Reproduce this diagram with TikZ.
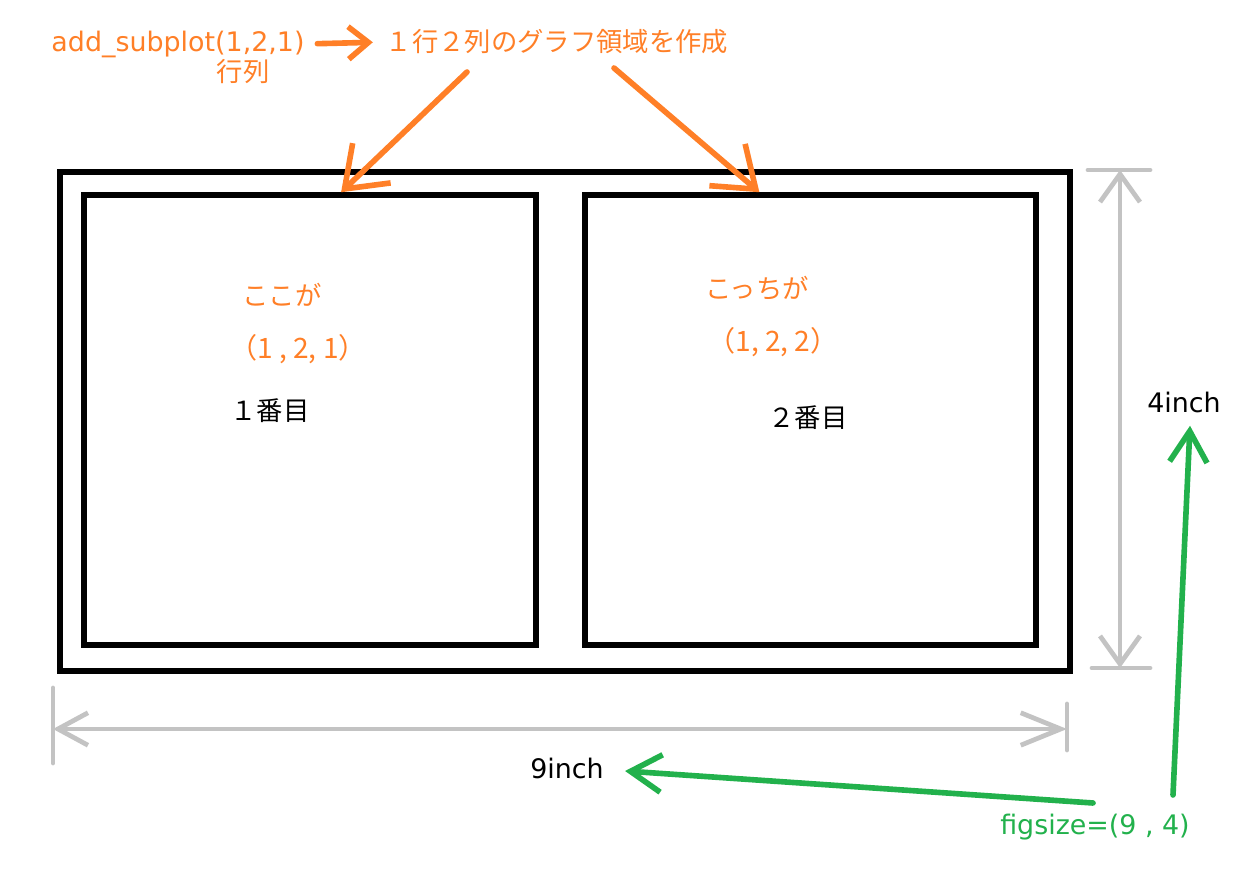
\documentclass[tikz,border=0pt]{standalone}
\usepackage{fontspec}
\setmainfont{DejaVu Sans}
\newfontfamily\jp{Noto Sans CJK JP}
\usetikzlibrary{positioning}
\usetikzlibrary{calc}
\usetikzlibrary{arrows.meta}
\definecolor{orng}{RGB}{255,127,39}
\definecolor{grn}{RGB}{34,177,76}
\definecolor{gry}{RGB}{195,195,195}

\begin{document}
\begin{tikzpicture}[x=0.02cm,y=-0.02cm,
    txt/.style={font=\fontsize{15.3}{18}\selectfont, inner sep=0pt},
    jtxt/.style={font=\jp\fontsize{15}{18}\selectfont, inner sep=0pt},
    frame/.style={draw, line width=3.2pt, inner sep=0pt},
    oarr/.style={orng, line width=3.2pt, line cap=round, -{Straight Barb[length=0.75cm,width=1.1cm]}},
    garr/.style={grn, line width=3.2pt, line cap=round, -{Straight Barb[length=0.62cm,width=0.75cm]}},
    dimv/.style={gry, line width=2.7pt, line cap=round, {Straight Barb[length=0.56cm,width=0.8cm]}-{Straight Barb[length=0.56cm,width=0.8cm]}},
    dimh/.style={gry, line width=2.7pt, line cap=round, {Straight Barb[length=0.6cm,width=0.65cm]}-{Straight Barb[length=0.8cm,width=0.65cm]}},
    tick/.style={gry, line width=2.7pt, line cap=round}]
    \useasboundingbox (0,0) rectangle (1234,874);

    % figure and the two axes
    \node[frame, minimum width=20.2cm, minimum height=9.98cm] (fig) at (565,421.5) {};
    \node[frame, minimum width=9.04cm, minimum height=9cm] (ax1) at (310,420) {};
    \node[frame, minimum width=9.02cm, minimum height=9cm] (ax2) at (810.5,420) {};

    \node[txt, orng] (subplot) at (178,44) {add\_subplot(1,2,1)};
    \node[jtxt, orng] (rowcol) at (243,72) {行列};
    \node[jtxt, orng] (layout) at (557,42) {１行２列のグラフ領域を作成};

    \node[jtxt, orng] (here1) at (282,295) {ここが};
    \node[jtxt, orng, font=\jp\fontsize{16}{18}\selectfont] (tup1) at (298,349) {（1 , 2, 1）};
    \node[jtxt] (num1) at (270,411) {１番目};
    \node[jtxt, orng] (here2) at (757,288) {こっちが};
    \node[jtxt, orng, font=\jp\fontsize{16}{18}\selectfont] (tup2) at (773,342) {（1, 2, 2）};
    \node[jtxt] (num2) at (808,418) {２番目};

    \node[txt] (inch4) at (1184,402) {4inch};
    \node[txt] (inch9) at (567,768) {9inch};
    \node[txt, grn] (figsize) at (1095,827) {figsize=(9 , 4)};

    \draw[oarr, -{Straight Barb[length=0.4cm,width=0.65cm]}, shorten <=0.25cm, shorten >=0.25cm] (subplot.east) -- (layout.west);
    \coordinate (o1) at (467,72);
    \coordinate (o2) at (614,68);
    \draw[oarr] (o1) -- ($(ax1.north west)!0.568!(ax1.north east)$);
    \draw[oarr] (o2) -- ($(ax2.north west)!0.388!(ax2.north east)$);

    % size arrows
    \coordinate (vt) at (1120,170);
    \coordinate (vb) at (1120,668);
    \draw[dimv] (vt) -- (vb);
    \draw[tick] ($(vt)+(-32,0)$) -- ($(vt)+(30,0)$);
    \draw[tick] ($(vb)+(-28,0)$) -- ($(vb)+(30,0)$);
    \coordinate (hl) at (53,729);
    \coordinate (hr) at (1067,729);
    \draw[dimh] (hl) -- (hr);
    \draw[tick] ($(hl)+(0,-41)$) -- ($(hl)+(0,34)$);
    \draw[tick] ($(hr)+(0,-25)$) -- ($(hr)+(0,21)$);

    \coordinate (g1) at (1173,795);
    \coordinate (g2) at (1093,803);
    \draw[garr] (g1) -- ([xshift=0.12cm,yshift=-0.26cm]inch4.south);
    \draw[garr] (g2) -- ([xshift=0.42cm,yshift=-0.06cm]inch9.east);
\end{tikzpicture}
\end{document}
